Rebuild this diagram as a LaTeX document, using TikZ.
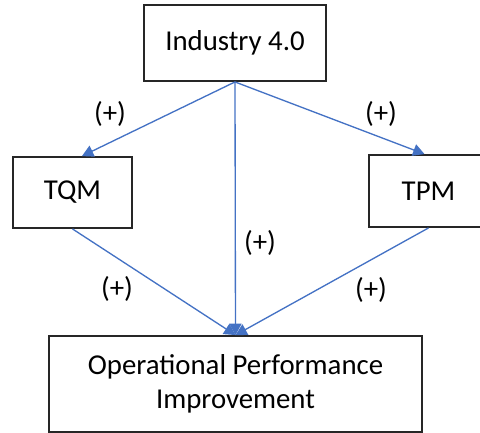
\documentclass[tikz,border=0pt]{standalone}
\usepackage{fontspec}
\setmainfont{Carlito}
\usetikzlibrary{arrows.meta,calc}
\definecolor{linkblue}{HTML}{4472C4}
\definecolor{boxline}{HTML}{262626}
\tikzset{
  box/.style={draw=boxline, line width=1.4pt, fill=white, inner sep=0pt,
              align=center, font=\fontsize{21.6}{25.5}\selectfont},
  link/.style={draw=linkblue, line width=1pt,
               -{Triangle[length=8.5pt,width=9pt]}},
  sign/.style={font=\fontsize{21.6}{25.5}\selectfont, inner sep=0pt}
}
\begin{document}
\begin{tikzpicture}[x=0.75pt,y=-0.75pt]
  \useasboundingbox (0,0) rectangle (480,433);
  \clip (0,0) rectangle (480,433);

  % boxes (sizes in pt: 1 unit = 0.75pt)
  \node[box, minimum width=136.5pt, minimum height=57pt] (ind) at (235,43) {Industry 4.0};
  \node[box, minimum width=89.25pt, minimum height=53.25pt] (tqm) at (72.5,192.5) {TQM};
  \node[box, minimum width=89.25pt, minimum height=54pt] (tpm) at (428.5,191) {TPM};
  \node[box, minimum width=279.75pt, minimum height=72pt] (opi) at (235.5,384)
       {Operational Performance\\Improvement};

  % connectors
  \draw[link] (ind.south) -- ($(tqm.north)+(9.5,0)$);
  \draw[link] (ind.south) -- ($(tpm.north)+(-4,0)$);
  \draw[link] (ind.south) -- (opi.north);
  \draw[link] (tqm.south) -- (opi.north);
  \draw[link] (tpm.south) -- (opi.north);

  % signs
  \node[sign] (s1) at (110,114) {(+)};
  \node[sign] (s2) at (381,114) {(+)};
  \node[sign] (s3) at (260,243) {(+)};
  \node[sign] (s4) at (117,289) {(+)};
  \node[sign] (s5) at (371,290) {(+)};
\end{tikzpicture}
\end{document}
